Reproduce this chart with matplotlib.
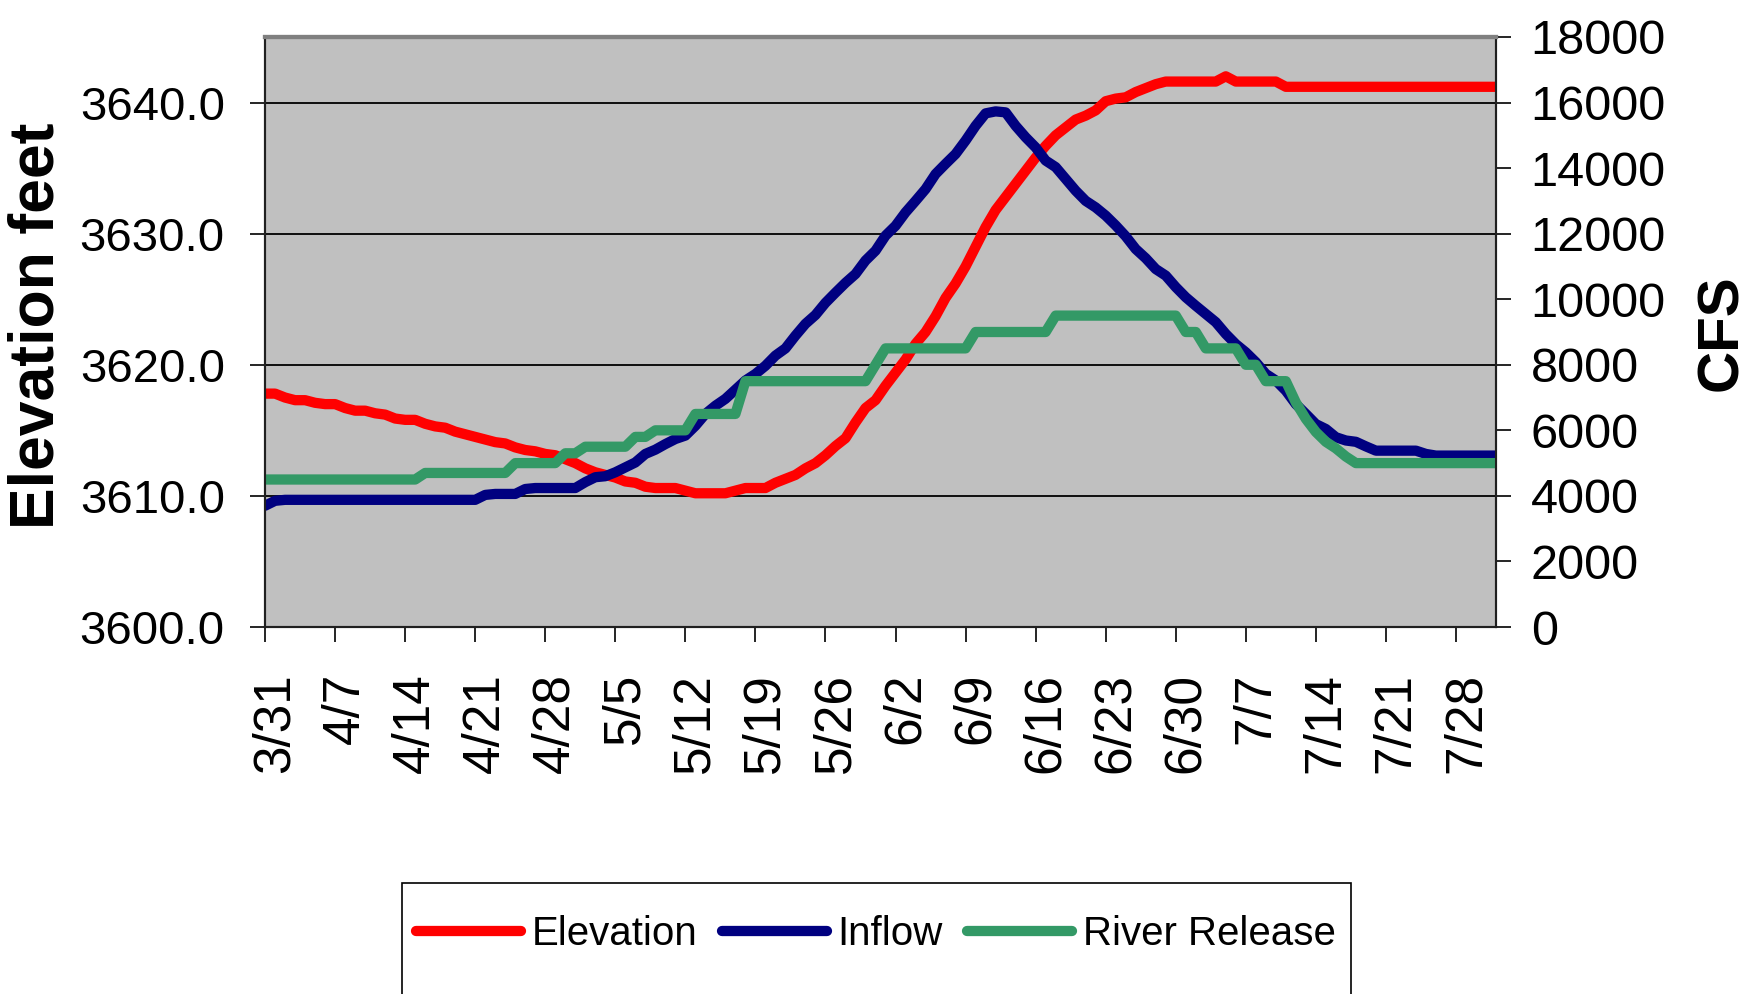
import numpy as np
import matplotlib
matplotlib.use("Agg")
from matplotlib import pyplot as plt
from matplotlib.patches import Rectangle
import matplotlib.transforms as mtransforms

plt.rcParams['font.family'] = ['Liberation Sans', 'DejaVu Sans']

# Daily values, 3/31 through 8/1
elevation = [
    3617.8, 3617.8, 3617.5, 3617.3, 3617.3, 3617.1, 3617.0, 3617.0, 3616.7, 3616.5,
    3616.5, 3616.3, 3616.2, 3615.9, 3615.8, 3615.8, 3615.5, 3615.3, 3615.2, 3614.9,
    3614.7, 3614.5, 3614.3, 3614.1, 3614.0, 3613.7, 3613.5, 3613.4, 3613.2, 3613.1,
    3612.8, 3612.5, 3612.1, 3611.8, 3611.6, 3611.4, 3611.1, 3611.0, 3610.7, 3610.6,
    3610.6, 3610.6, 3610.4, 3610.2, 3610.2, 3610.2, 3610.2, 3610.4, 3610.6, 3610.6,
    3610.6, 3611.0, 3611.3, 3611.6, 3612.1, 3612.5, 3613.1, 3613.8, 3614.4, 3615.6,
    3616.7, 3617.3, 3618.4, 3619.4, 3620.4, 3621.6, 3622.5, 3623.7, 3625.1, 3626.2,
    3627.5, 3629.0, 3630.5, 3631.8, 3632.8, 3633.8, 3634.8, 3635.8, 3636.7, 3637.5,
    3638.1, 3638.7, 3639.0, 3639.4, 3640.1, 3640.3, 3640.4, 3640.8, 3641.1, 3641.4,
    3641.6, 3641.6, 3641.6, 3641.6, 3641.6, 3641.6, 3642.0, 3641.6, 3641.6, 3641.6,
    3641.6, 3641.6, 3641.2, 3641.2, 3641.2, 3641.2, 3641.2, 3641.2, 3641.2, 3641.2,
    3641.2, 3641.2, 3641.2, 3641.2, 3641.2, 3641.2, 3641.2, 3641.2, 3641.2, 3641.2,
    3641.2, 3641.2, 3641.2, 3641.2,
]

inflow = [
    3700, 3850, 3880, 3880, 3880, 3880, 3880, 3880, 3880, 3880,
    3880, 3880, 3880, 3880, 3880, 3880, 3880, 3880, 3880, 3880,
    3880, 3880, 4030, 4060, 4060, 4060, 4210, 4240, 4240, 4240,
    4240, 4240, 4420, 4570, 4600, 4720, 4870, 5020, 5280, 5410,
    5580, 5735, 5840, 6140, 6500, 6750, 6960, 7240, 7520, 7720,
    7970, 8280, 8500, 8890, 9250, 9520, 9890, 10200, 10500, 10770,
    11180, 11480, 11940, 12240, 12650, 13000, 13360, 13820, 14130, 14430,
    14840, 15290, 15670, 15730, 15700, 15290, 14940, 14630, 14230, 14030,
    13670, 13310, 13000, 12800, 12550, 12250, 11920, 11530, 11250, 10920,
    10720, 10370, 10060, 9800, 9550, 9300, 8940, 8630, 8380, 8080,
    7720, 7520, 7210, 6800, 6500, 6190, 6040, 5790, 5690, 5650,
    5510, 5380, 5380, 5380, 5380, 5380, 5280, 5230, 5230, 5230,
    5230, 5230, 5230, 5230,
]

river_release = [
    4500, 4500, 4500, 4500, 4500, 4500, 4500, 4500, 4500, 4500,
    4500, 4500, 4500, 4500, 4500, 4500, 4700, 4700, 4700, 4700,
    4700, 4700, 4700, 4700, 4700, 5000, 5000, 5000, 5000, 5000,
    5300, 5300, 5500, 5500, 5500, 5500, 5500, 5800, 5800, 6000,
    6000, 6000, 6000, 6500, 6500, 6500, 6500, 6500, 7500, 7500,
    7500, 7500, 7500, 7500, 7500, 7500, 7500, 7500, 7500, 7500,
    7500, 8000, 8500, 8500, 8500, 8500, 8500, 8500, 8500, 8500,
    8500, 9000, 9000, 9000, 9000, 9000, 9000, 9000, 9000, 9500,
    9500, 9500, 9500, 9500, 9500, 9500, 9500, 9500, 9500, 9500,
    9500, 9500, 9000, 9000, 8500, 8500, 8500, 8500, 8000, 8000,
    7500, 7500, 7500, 6850, 6350, 5950, 5650, 5450, 5200, 5000,
    5000, 5000, 5000, 5000, 5000, 5000, 5000, 5000, 5000, 5000,
    5000, 5000, 5000, 5000,
]

tick_labels = ["3/31", "4/7", "4/14", "4/21", "4/28", "5/5", "5/12", "5/19", "5/26",
               "6/2", "6/9", "6/16", "6/23", "6/30", "7/7", "7/14", "7/21", "7/28"]
elev_ticks = [3600, 3610, 3620, 3630, 3640]
cfs_ticks = [0, 2000, 4000, 6000, 8000, 10000, 12000, 14000, 16000, 18000]

days = np.arange(len(elevation))

fig = plt.figure(figsize=(17.6, 9.94), dpi=100)
ax = fig.add_axes([0.1506, 0.3692, 0.6994, 0.5936])
ax.set_facecolor('#C0C0C0')
ax2 = ax.twinx()

line_kw = dict(lw=7.4, solid_capstyle='round', solid_joinstyle='round')
l1, = ax.plot(days, elevation, color='#FF0000', label='Elevation', **line_kw)
l2, = ax2.plot(days, inflow, color='#000080', label='Inflow', **line_kw)
l3, = ax2.plot(days, river_release, color='#339966', label='River Release', **line_kw)

ax.set_xlim(0, len(elevation) - 1)
ax.set_ylim(3600, 3645)
ax2.set_ylim(0, 18000)

ax.set_yticks(elev_ticks)
ax.set_yticklabels([f"{v:.1f}" for v in elev_ticks])
ax2.set_yticks(cfs_ticks)
ax2.set_yticklabels([str(v) for v in cfs_ticks])
ax.set_xticks(np.arange(0, len(elevation), 7)[:len(tick_labels)])
ax.set_xticklabels(tick_labels, rotation=90, fontsize=37)

ax.grid(axis='y', color='black', lw=1.3)
ax.grid(axis='x', visible=False)

ax.tick_params(axis='y', direction='out', length=11, width=1.2, pad=18, labelsize=34)
ax2.tick_params(axis='y', direction='out', length=11, width=1.2, pad=14, labelsize=35)
ax.tick_params(axis='x', direction='out', length=11, width=1.2, pad=22)

offset = mtransforms.ScaledTranslation(0.1, 0, fig.dpi_scale_trans)
for lab in ax.get_xticklabels():
    lab.set_transform(lab.get_transform() + offset)

for a in (ax, ax2):
    a.spines['top'].set_color('#808080')
    a.spines['top'].set_linewidth(3)
    for s in ('left', 'right', 'bottom'):
        a.spines[s].set_color('#202020')
        a.spines[s].set_linewidth(1.5)

fig.text(37 / 1760, 1 - 326 / 994, "Elevation feet", rotation=90, ha='center', va='center',
         fontsize=45, fontweight='bold')
fig.text(1722 / 1760, 1 - 333 / 994, "CFS", rotation=90, ha='center', va='center',
         fontsize=42, fontweight='bold')

# legend box runs off the bottom of the figure
box = Rectangle((402 / 1760, -0.01), (1351 - 402) / 1760, (1004 - 883) / 994,
                transform=fig.transFigure, facecolor='white', edgecolor='black',
                lw=1.2, clip_on=False)
fig.patches.append(box)
fig.legend(handles=[l1, l2, l3], loc='center', bbox_to_anchor=(876 / 1760, 1 - 934 / 994),
           ncol=3, frameon=False, fontsize=29, handlelength=2.6, handletextpad=0.27,
           columnspacing=0.6)

fig.savefig("out.png", dpi=100)
